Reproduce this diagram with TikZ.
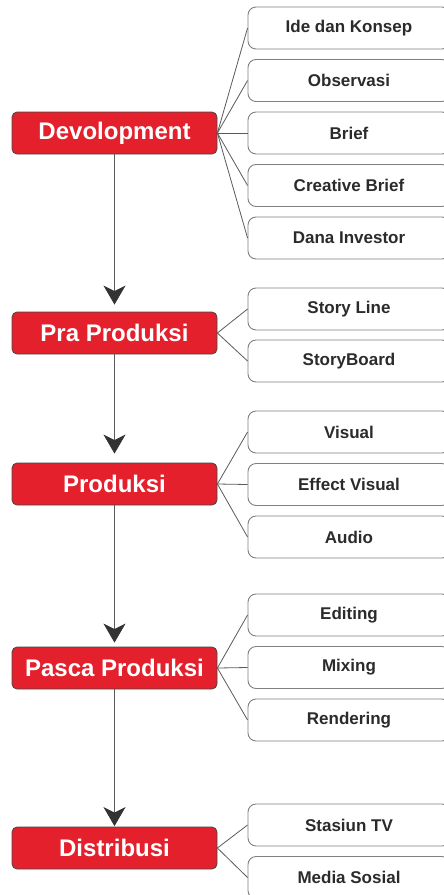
\documentclass[tikz,border=0pt]{standalone}
\usepackage{fontspec}
\setmainfont{Liberation Sans}
\usetikzlibrary{arrows.meta}
\definecolor{stagered}{HTML}{E4202C}
\definecolor{edgegray}{HTML}{5A5A5A}
\definecolor{boxgray}{HTML}{808080}
\definecolor{textdark}{HTML}{2B2B2B}
\tikzset{
  stage/.style={draw=edgegray!80!black, line width=0.8pt, fill=stagered, rounded corners=5pt,
    minimum width=205pt, minimum height=42pt, inner sep=0pt, text=white,
    font=\fontsize{24}{28}\selectfont\bfseries},
  item/.style={draw=boxgray, line width=0.9pt, fill=white, rounded corners=8pt,
    minimum width=202pt, minimum height=42pt, inner sep=0pt, text=textdark,
    font=\fontsize{17}{20}\selectfont\bfseries},
  link/.style={draw=edgegray, line width=0.8pt},
  flow/.style={draw=edgegray, line width=0.8pt,
    -{Stealth[length=19pt, width=22pt, inset=5.5pt, color=black!80]}},
}
\begin{document}
\begin{tikzpicture}[x=1pt, y=-1pt]
\useasboundingbox (0,0) rectangle (444,895);
\clip (0,0) rectangle (444,895);

% stages
\node[stage] (dev)  at (114.5,133) {Devolopment};
\node[stage] (pra)  at (114.5,333) {Pra Produksi};
\node[stage] (prod) at (114.5,484) {Produksi};
\node[stage] (pasc) at (114.5,668) {Pasca Produksi};
\node[stage] (dist) at (114.5,848) {Distribusi};

% items
\node[item] (ide)   at (349,28)  {Ide dan Konsep};
\node[item] (obs)   at (349,80.5) {Observasi};
\node[item] (brief) at (349,133) {Brief};
\node[item] (cbr)   at (349,185.5) {Creative Brief};
\node[item] (dana)  at (349,238) {Dana Investor};

\node[item] (story) at (349,309) {Story Line};
\node[item] (board) at (349,361) {StoryBoard};

\node[item] (vis)   at (349,432) {Visual};
\node[item] (eff)   at (349,484.5) {Effect Visual};
\node[item] (aud)   at (349,537) {Audio};

\node[item] (edit)  at (349,615) {Editing};
\node[item] (mix)   at (349,667.5) {Mixing};
\node[item] (rend)  at (349,720) {Rendering};

\node[item] (tv)    at (349,825) {Stasiun TV};
\node[item] (med)   at (349,877.5) {Media Sosial};

% flow between stages
\draw[flow, shorten >=7pt] (dev.south) -- (pra.north);
\draw[flow, shorten >=9pt] (pra.south) -- (prod.north);
\draw[flow, shorten >=4pt] (prod.south) -- (pasc.north);
\draw[flow, shorten >=0.5pt] (pasc.south) -- (dist.north);

% branches
\foreach \t in {ide,obs,brief,cbr,dana} \draw[link] (dev.east) -- (\t.west);
\foreach \t in {story,board} \draw[link] (pra.east) -- (\t.west);
\foreach \t in {vis,eff,aud} \draw[link] (prod.east) -- (\t.west);
\foreach \t in {edit,mix,rend} \draw[link] (pasc.east) -- (\t.west);
\foreach \t in {tv,med} \draw[link] (dist.east) -- (\t.west);
\end{tikzpicture}
\end{document}
